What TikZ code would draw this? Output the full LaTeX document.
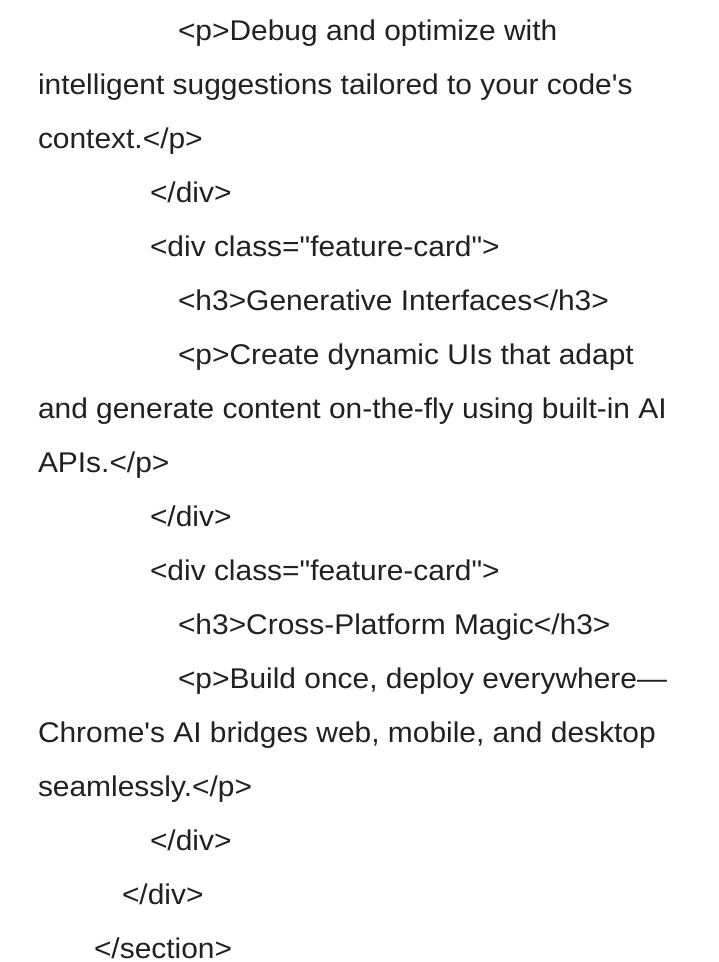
\documentclass[tikz,border=0pt]{standalone}
\usepackage{fontspec}
\newfontfamily\codefont{Liberation Sans}[FakeStretch=1.05]
\begin{document}
\begin{tikzpicture}[x=1pt,y=1pt,
  codeline/.style={anchor=base west,inner sep=0pt,outer sep=0pt,text=black!87,
    font=\codefont\fontsize{28.5}{28.5}\selectfont}]
\useasboundingbox (0,0) rectangle (719,962);
\fill[white] (0,0) rectangle (719,962);
\def\bl#1{962-41-54*#1}
\node[codeline] (l1)  at (178,{\bl{0}})  {<p>Debug and optimize with};
\node[codeline] (l2)  at (38,{\bl{1}})   {intelligent suggestions tailored to your code's};
\node[codeline] (l3)  at (38,{\bl{2}})   {context.</p>};
\node[codeline] (l4)  at (150,{\bl{3}})  {</div>};
\node[codeline] (l5)  at (150,{\bl{4}})  {<div class="feature-card">};
\node[codeline] (l6)  at (178,{\bl{5}})  {<h3>Generative Interfaces</h3>};
\node[codeline] (l7)  at (178,{\bl{6}})  {<p>Create dynamic UIs that adapt};
\node[codeline] (l8)  at (38,{\bl{7}})   {and generate content on-the-fly using built-in AI};
\node[codeline] (l9)  at (38,{\bl{8}})   {APIs.</p>};
\node[codeline] (l10) at (150,{\bl{9}})  {</div>};
\node[codeline] (l11) at (150,{\bl{10}}) {<div class="feature-card">};
\node[codeline] (l12) at (178,{\bl{11}}) {<h3>Cross-Platform Magic</h3>};
\node[codeline] (l13) at (178,{\bl{12}}) {<p>Build once, deploy everywhere—};
\node[codeline] (l14) at (38,{\bl{13}})  {Chrome's AI bridges web, mobile, and desktop};
\node[codeline] (l15) at (38,{\bl{14}})  {seamlessly.</p>};
\node[codeline] (l16) at (150,{\bl{15}}) {</div>};
\node[codeline] (l17) at (122,{\bl{16}}) {</div>};
\node[codeline] (l18) at (94,{\bl{17}})  {</section>};
\end{tikzpicture}
\end{document}
